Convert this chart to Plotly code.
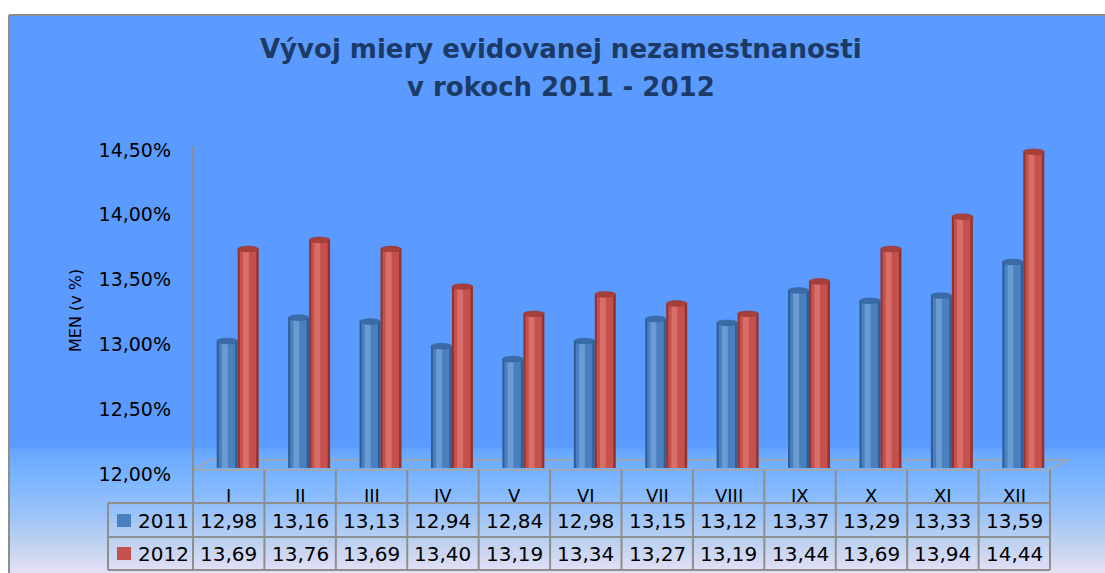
import plotly.graph_objects as go

# údaje z grafu
mesiace = ["I", "II", "III", "IV", "V", "VI", "VII", "VIII", "IX", "X", "XI", "XII"]
men_2011 = [12.98, 13.16, 13.13, 12.94, 12.84, 12.98, 13.15, 13.12, 13.37, 13.29, 13.33, 13.59]
men_2012 = [13.69, 13.76, 13.69, 13.40, 13.19, 13.34, 13.27, 13.19, 13.44, 13.69, 13.94, 14.44]
roky = ["2011", "2012"]
y_ticks = [12.0, 12.5, 13.0, 13.5, 14.0, 14.5]
y_tick_text = ["12,00%", "12,50%", "13,00%", "13,50%", "14,00%", "14,50%"]

W_FIG, H_FIG = 1105, 573
L, R_EDGE, T, B_EDGE = 202, 1059, 144, 468  # plot area in pixels
PW, PH = R_EDGE - L, B_EDGE - T
SHIFT = 9  # 3D depth offset between table and bars

def px(x):
    return (x - L) / PW

def py(y):
    return (B_EDGE - y) / PH

GRID = "#8E8E8E"
FONT = "DejaVu Sans"
BW = 0.294  # bar width in category units

fig = go.Figure()

# cylinder look: dark edge, body, highlight
styles = {
    "2011": dict(edge="#2F5E98", body="#4A80C0", hi="#6C9AD2", top="#3B6BA6", off=-BW),
    "2012": dict(edge="#93332F", body="#C6504C", hi="#D86E69", top="#A5403C", off=0.0),
}
for rok, vals in zip(roky, [men_2011, men_2012]):
    s = styles[rok]
    fig.add_trace(go.Bar(x=mesiace, y=vals, width=BW, offset=s["off"],
                         marker=dict(color=s["edge"], line_width=0), name=rok,
                         hoverinfo="y", showlegend=False))
    fig.add_trace(go.Bar(x=mesiace, y=vals, width=BW * 0.78, offset=s["off"] + BW * 0.1,
                         marker=dict(color=s["body"], line_width=0),
                         hoverinfo="skip", showlegend=False))
    fig.add_trace(go.Bar(x=mesiace, y=vals, width=BW * 0.28, offset=s["off"] + BW * 0.25,
                         marker=dict(color=s["hi"], line_width=0),
                         hoverinfo="skip", showlegend=False))

shapes = []
# background of chart area
shapes.append(dict(type="rect", xref="paper", yref="paper", x0=px(9), x1=px(1120),
                   y0=py(15), y1=py(590), fillcolor="#5B9BFF", line_width=0, layer="below"))
stops = [(445, (91, 155, 255)), (450, (104, 168, 255)), (480, (124, 182, 255)),
         (510, (152, 194, 248)), (540, (188, 208, 240)), (575, (232, 226, 245))]
for y in range(445, 575, 2):
    for (ya, ca), (yb, cb) in zip(stops[:-1], stops[1:]):
        if ya <= y < yb:
            t = (y - ya) / (yb - ya)
            c = tuple(round(a + (b - a) * t) for a, b in zip(ca, cb))
            break
    shapes.append(dict(type="rect", xref="paper", yref="paper", x0=px(10), x1=px(1120),
                       y0=py(y), y1=py(y + 2.2), fillcolor="rgb(%d,%d,%d)" % c,
                       line_width=0, layer="below"))
# frame border (left and top)
shapes.append(dict(type="line", xref="paper", yref="paper", x0=px(9), x1=px(9),
                   y0=py(15), y1=py(590), line=dict(color=GRID, width=2), layer="below"))
shapes.append(dict(type="line", xref="paper", yref="paper", x0=px(9), x1=px(1120),
                   y0=py(15), y1=py(15), line=dict(color=GRID, width=2), layer="below"))

# floor and wall
col0 = L - SHIFT
cw = PW / len(mesiace)
col_end = col0 + cw * len(mesiace)
floor = "M %f %f L %f %f L %f %f L %f %f Z" % (
    px(col0), py(470), px(col_end), py(470), px(col_end + 17), py(460), px(col0 + 17), py(460))
shapes.append(dict(type="path", xref="paper", yref="paper", path=floor,
                   line=dict(color="#A6A6A6", width=1.5), layer="below"))
shapes.append(dict(type="line", xref="paper", yref="paper", x0=px(col0), x1=px(col0),
                   y0=py(146), y1=py(470), line=dict(color="#8C8C8C", width=2), layer="below"))

# cylinder tops
for rok, vals in zip(roky, [men_2011, men_2012]):
    s = styles[rok]
    for i, v in enumerate(vals):
        shapes.append(dict(type="circle", xref="x", yref="y",
                           x0=i + s["off"], x1=i + s["off"] + BW, y0=v - 0.022, y1=v + 0.022,
                           fillcolor=s["top"], line=dict(color=s["edge"], width=0.5)))

# data table grid
for yy in [503, 537, 570]:
    shapes.append(dict(type="line", xref="paper", yref="paper", x0=px(108), x1=px(col_end),
                       y0=py(yy), y1=py(yy), line=dict(color=GRID, width=2)))
shapes.append(dict(type="line", xref="paper", yref="paper", x0=px(108), x1=px(108),
                   y0=py(503), y1=py(570), line=dict(color=GRID, width=2)))
for k in range(len(mesiace) + 1):
    xx = col0 + k * cw
    shapes.append(dict(type="line", xref="paper", yref="paper", x0=px(xx), x1=px(xx),
                       y0=py(470), y1=py(570), line=dict(color=GRID, width=2)))

def note(text, x, y, size, xref="paper", **kw):
    d = dict(text=text, xref=xref, yref="paper", x=x, y=y, showarrow=False,
             xanchor="center", yanchor="middle",
             font=dict(family=FONT, size=size, color=kw.pop("color", "black")))
    d.update(kw)
    return d

annotations = []
annotations.append(note("<b>Vývoj miery evidovanej nezamestnanosti</b>", px(561), py(49), 26,
                        color="#1B3A66"))
annotations.append(note("<b>v rokoch 2011 - 2012</b>", px(561), py(87), 26, color="#1B3A66"))
annotations.append(note("MEN (v %)", px(75), py(311), 16, textangle=-90))
for m in mesiace:
    annotations.append(note(m, m, py(495), 18, xref="x", xshift=-SHIFT))
for r, (rok, vals) in enumerate(zip(roky, [men_2011, men_2012])):
    yc = 521 + r * 33
    for m, v in zip(mesiace, vals):
        annotations.append(note(("%.2f" % v).replace(".", ","), m, py(yc), 20,
                                xref="x", xshift=-SHIFT))
    shapes.append(dict(type="rect", xref="paper", yref="paper", x0=px(117), x1=px(131),
                       y0=py(yc - 7), y1=py(yc + 6), fillcolor=styles[rok]["body"], line_width=0))
    annotations.append(note(rok, px(136), py(yc), 20, xanchor="left"))

fig.update_layout(
    width=W_FIG, height=H_FIG,
    margin=dict(l=L, r=W_FIG - R_EDGE, t=T, b=H_FIG - B_EDGE, autoexpand=False),
    paper_bgcolor="white", plot_bgcolor="rgba(0,0,0,0)",
    barmode="overlay",
    shapes=shapes, annotations=annotations,
    xaxis=dict(type="category", range=[-0.5, 11.5], showticklabels=False, showgrid=False,
               zeroline=False, showline=False, fixedrange=True),
    yaxis=dict(range=[12, 14.5], tickvals=y_ticks, ticktext=y_tick_text, showgrid=False,
               zeroline=False, showline=False, ticks="", ticklabelstandoff=30,
               ticklabelshift=6,
               tickfont=dict(family=FONT, size=19, color="black"), fixedrange=True),
    showlegend=False,
)

fig.write_html("out.html", config={"displayModeBar": False},
               post_script="document.body.style.margin='0px';document.body.style.overflow='hidden';")
